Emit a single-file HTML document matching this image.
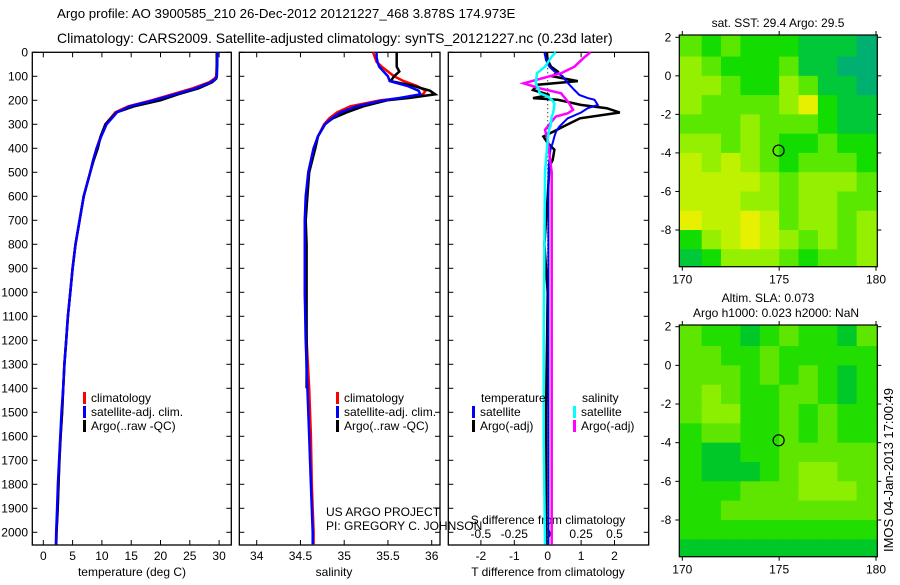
<!DOCTYPE html>
<html><head><meta charset="utf-8"><style>
body{margin:0;background:#fff;}
svg{font-family:"Liberation Sans",sans-serif;}
</style></head><body>
<svg id="s" width="900" height="580" xmlns="http://www.w3.org/2000/svg">
<rect width="900" height="580" fill="#fff"/>
<text x="57" y="18" font-size="13.3">Argo profile: AO 3900585_210 26-Dec-2012 20121227_468 3.878S 174.973E</text>
<text x="57" y="43" font-size="14">Climatology: CARS2009. Satellite-adjusted climatology: synTS_20121227.nc (0.23d later)</text>
<text transform="translate(893,470) rotate(-90)" font-size="13" text-anchor="middle">IMOS 04-Jan-2013 17:00:49</text>
<g id="g"></g>
</svg>
<script>
// ---- data ----
const depths=[0,50,100,110,125,150,175,200,225,250,300,350,400,450,500,600,700,800,900,1000,1100,1200,1300,1400,1500,1600,1700,1800,1900,2000,2050];
const tempClim=[29.6,29.6,29.5,29.2,28.3,25.5,22.0,18.5,14.5,12.3,10.6,9.8,9.1,8.5,8.0,6.9,6.2,5.5,5.0,4.6,4.2,3.9,3.6,3.4,3.2,2.95,2.75,2.6,2.45,2.25,2.2];
const tempSat=[29.7,29.7,29.6,29.4,28.6,26.0,22.5,18.8,14.8,12.6,10.8,9.9,9.1,8.5,8.0,6.9,6.2,5.5,5.0,4.6,4.2,3.9,3.6,3.4,3.1,2.9,2.7,2.5,2.35,2.2,2.15];
const tempArgo=[29.6,29.6,29.6,29.5,28.8,26.5,23.0,20.0,15.5,12.5,10.6,9.8,9.3,8.6,8.0,6.9,6.2,5.5,5.0,4.6,4.2,3.9,3.6,3.4,3.2,2.95,2.75,2.6,2.45,2.25,2.2];
const salDepths=[0,20,40,60,80,100,120,140,160,175,190,200,225,250,275,300,350,400,500,600,700,800,1000,1200,1400,1600,1800,2000,2050];
const salClim=[35.33,35.35,35.37,35.43,35.5,35.57,35.68,35.83,35.93,35.9,35.68,35.41,35.07,34.92,34.83,34.77,34.7,34.65,34.59,34.57,34.55,34.55,34.55,34.57,34.6,34.62,34.63,34.65,34.65];
const salSat=[35.37,35.37,35.38,35.4,35.45,35.5,35.52,35.72,35.85,35.87,35.64,35.45,35.14,34.96,34.86,34.78,34.7,34.65,34.59,34.56,34.55,34.55,34.55,34.56,34.58,34.6,34.62,34.64,34.64];
const salArgo=[35.6,35.6,35.6,35.6,35.63,35.57,35.53,35.79,35.98,36.04,35.75,35.49,35.22,35.03,34.87,34.78,34.7,34.67,34.6,34.58,34.56,34.57,34.57,34.57,34.57];
const tdDepths=[0,32,60,80,100,120,135,157,178,191,198,219,233,251,275,309,330,351,378,406,448,476,600,800,1000,1500,2050];
const tdArgo=[-0.03,0,0.1,0.3,0.15,0.9,-0.3,-0.44,0.05,-0.44,0.3,0.99,1.77,2.16,0.97,0.47,0.18,-0.13,0,0.2,0.15,0.05,0,-0.1,0,-0.05,-0.05];
const tdSat=[-0.1,-0.05,0.05,0.2,0.45,0.55,0.65,0.8,0.95,1.2,1.4,1.5,1.2,1.0,0.6,0.35,0.25,0.2,0.15,0.08,0.05,0.03,0.02,0.02,0.02,0.02,0.02];
const sdDepths=[0,18,60,87,129,150,171,184,198,212,240,254,268,309,323,364,500,800,1200,1600,2050];
const sdSat=[0.06,0.03,-0.02,-0.08,-0.09,-0.07,-0.06,0,0.03,0.05,0.045,0.04,0.03,0.02,0.01,0,-0.02,-0.025,-0.03,-0.03,-0.02];
const sdArgo=[0.32,0.28,0.2,0.1,-0.18,-0.06,0.1,0.12,0.14,0.16,0.19,0.15,0.06,0.0,-0.02,0,0.03,0.03,0.03,0.03,0.03];
const depthTicks=[0,100,200,300,400,500,600,700,800,900,1000,1100,1200,1300,1400,1500,1600,1700,1800,1900,2000];
const tempTicks=[0,5,10,15,20,25,30];
const salTicks=[34,34.5,35,35.5,36];
const tdTicks=[-2,-1,0,1,2];
const sdTicks=[-0.5,-0.25,0,0.25,0.5];
const sdTickLabels=["-0.5","-0.25","0","0.25","0.5"];
const lonTicks=[170,175,180];
const latTicks=[2,0,-2,-4,-6,-8];
const sstGrid=[
"3232221110","4322231100","4432243110","4333346211","3334333211","4434322322",
"5454323332","5555434443","5554434433","6556534434","2456543434","1244432334"];
const slaGrid=[
"3221232213","3322322222","3332323212","3432233212","3442232322","2332232322",
"2112233333","2111234433","2223334443","2233333333","2222222222","1111111111"];
const sstColors=["#00b070","#00c838","#12dc00","#5ae800","#94f000","#bef200","#e6f000","#f0d000"];
const slaColors=["#00b050","#00c828","#22de00","#5ee600","#8cee00","#b0f400"];
const argoLon=174.973, argoLat=-3.878;

// ---- helpers ----
const NS="http://www.w3.org/2000/svg";
const G=document.getElementById('g');
function el(tag,attrs,parent){const e=document.createElementNS(NS,tag);for(const k in attrs)e.setAttribute(k,attrs[k]);(parent||G).appendChild(e);return e;}
function txt(x,y,s,size,anchor,parent){const t=el('text',{x:x,y:y,'font-size':size,'text-anchor':anchor||'middle'},parent);t.textContent=s;return t;}

const yTop=52.3, pxPer100=24.0, yBottom=545;
const yD=d=>yTop+d*pxPer100/100;

function panel(x0,x1,name){
  const g=el('g',{});
  
  
  const r=el('rect',{x:x0,y:yTop,width:x1-x0,height:yBottom-yTop,fill:'none',stroke:'#000','stroke-width':1.3},g);
  
  
  depthTicks.forEach(d=>{el('line',{x1:x0,x2:x0+5,y1:yD(d),y2:yD(d),stroke:'#000'},g);el('line',{x1:x1,x2:x1-5,y1:yD(d),y2:yD(d),stroke:'#000'},g);});
  return g;
}
function line(g,xs,ds,xf,color,w,name){
  const pts=xs.map((v,i)=>xf(v).toFixed(1)+','+yD(ds[i]).toFixed(1)).join(' ');
  const p=el('polyline',{points:pts,fill:'none',stroke:color,'stroke-width':w||2.5,'stroke-linejoin':'miter'},g);
  
  
}
function legend(g,x,y,items){items.forEach((it,i)=>{el('rect',{x:x,y:y+i*14-10,width:3,height:12,fill:it[0]},g);txt(x+8,y+i*14,it[1],12,'start',g);});}

// Panel 1: temperature
const xT=v=>43.3+v*5.86;
const p1=panel(32.3,231.3,'temperature-panel');
tempTicks.forEach(t=>{el('line',{x1:xT(t),x2:xT(t),y1:yTop,y2:yTop+5,stroke:'#000'},p1);el('line',{x1:xT(t),x2:xT(t),y1:yBottom,y2:yBottom-5,stroke:'#000'},p1);txt(xT(t),560,String(t),12,'middle',p1);});
depthTicks.forEach(d=>{const t=txt(28,yD(d)+4,String(d),12,'end',p1);});
txt(132,576,'temperature (deg C)',12,'middle',p1);
line(p1,tempClim,depths,xT,'#f00',2.5,'temp-climatology-line');
line(p1,tempArgo,depths,xT,'#000',2.5,'temp-argo-line');
line(p1,tempSat,depths,xT,'#00f',2.5,'temp-satellite-line');
legend(p1,83,402,[['#f00','climatology'],['#00f','satellite-adj. clim.'],['#000','Argo(..raw -QC)']]);

// Panel 2: salinity
const xS=v=>256.7+(v-34)*87.5;
const p2=panel(239.3,440,'salinity-panel');
salTicks.forEach(t=>{el('line',{x1:xS(t),x2:xS(t),y1:yTop,y2:yTop+5,stroke:'#000'},p2);el('line',{x1:xS(t),x2:xS(t),y1:yBottom,y2:yBottom-5,stroke:'#000'},p2);txt(xS(t),560,String(t),12,'middle',p2);});
txt(334,576,'salinity',12,'middle',p2);
line(p2,salClim,salDepths,xS,'#f00',2.5,'sal-climatology-line');
line(p2,salArgo,salDepths.slice(0,salArgo.length),xS,'#000',2.5,'sal-argo-line');
line(p2,salSat,salDepths,xS,'#00f',2.5,'sal-satellite-line');
legend(p2,336,402,[['#f00','climatology'],['#00f','satellite-adj. clim.'],['#000','Argo(..raw -QC)']]);
txt(326,516,'US ARGO PROJECT',12,'start',p2);
txt(326,530,'PI: GREGORY C. JOHNSON',12,'start',p2);

// Panel 3: differences
const xTd=v=>547.7+v*33.4;
const xSd=v=>547.7+v*133.6;
const p3=panel(448.3,648.7,'difference-panel');
tdTicks.forEach(t=>{el('line',{x1:xTd(t),x2:xTd(t),y1:yTop,y2:yTop+5,stroke:'#000'},p3);el('line',{x1:xTd(t),x2:xTd(t),y1:yBottom,y2:yBottom-5,stroke:'#000'},p3);txt(xTd(t),560,String(t),12,'middle',p3);});
sdTicks.forEach((t,i)=>txt(xSd(t),538,sdTickLabels[i],12,'middle',p3));
txt(548,524,'S difference from climatology',12,'middle',p3);
txt(548,576,'T difference from climatology',12,'middle',p3);
el('line',{x1:xTd(0),x2:xTd(0),y1:yTop,y2:yBottom,stroke:'#000','stroke-dasharray':'1,3'},p3);
line(p3,tdArgo,tdDepths,xTd,'#000',2.5,'tdiff-argo-line');
line(p3,tdSat,tdDepths,xTd,'#00f',2,'tdiff-satellite-line');
line(p3,sdArgo,sdDepths,xSd,'#f0f',2.5,'sdiff-argo-line');
line(p3,sdSat,sdDepths,xSd,'#0ff',2.5,'sdiff-satellite-line');
txt(481,402,'temperature',12,'start',p3);
txt(582,402,'salinity',12,'start',p3);
legend(p3,472,416,[['#00f','satellite'],['#000','Argo(-adj)']]);
legend(p3,573,416,[['#0ff','satellite'],['#f0f','Argo(-adj)']]);

// Maps
function map(y0,latTop,pxLat,grid,colors,name,titles){
  const g=el('g',{});
  
  
  const x0=679.3,x1=877.3,yb=y0+231.7;
  const xL=lo=>682.3+(lo-170)*19.37;
  const yL=la=>latTop+(2-la)*pxLat;
  grid.forEach((row,r)=>{for(let c=0;c<row.length;c++){
    const lo=170+c, la=2-r;
    const xa=(c==0)?x0:xL(lo), xb=(c==row.length-1)?x1:xL(lo+1);
    const ya=(r==0)?y0:yL(la), yb2=(r==grid.length-1)?yb:yL(la-1);
    const cell=el('rect',{x:xa,y:ya,width:xb-xa+0.5,height:Math.min(yb,yb2)-ya+0.5,fill:colors[+row[c]]},g);
    
    
  }});
  el('rect',{x:x0,y:y0,width:x1-x0,height:yb-y0,fill:'none',stroke:'#000','stroke-width':1.2},g);
  lonTicks.forEach(lo=>{el('line',{x1:xL(lo),x2:xL(lo),y1:y0-4,y2:y0,stroke:'#000'},g);el('line',{x1:xL(lo),x2:xL(lo),y1:yb,y2:yb+4,stroke:'#000'},g);txt(xL(lo),yb+17,String(lo),12,'middle',g);});
  latTicks.forEach(la=>{el('line',{x1:x0-4,x2:x0,y1:yL(la),y2:yL(la),stroke:'#000'},g);el('line',{x1:x1,x2:x1+4,y1:yL(la),y2:yL(la),stroke:'#000'},g);txt(x0-8,yL(la)+4,String(la),12,'end',g);});
  const c=el('circle',{cx:xL(argoLon),cy:yL(argoLat),r:5.5,fill:'none',stroke:'#000','stroke-width':1.2},g);
  
  
  titles.forEach(t=>txt(t[0],t[1],t[2],12,'middle',g));
}
map(35,37.3,19.27,sstGrid,sstColors,'sst-map',[[778,27,'sat. SST: 29.4  Argo: 29.5']]);
map(325,326.7,19.33,slaGrid,slaColors,'sla-map',[[768,302,'Altim. SLA: 0.073'],[776,317,'Argo h1000: 0.023 h2000: NaN']]);
</script>
</body></html>
